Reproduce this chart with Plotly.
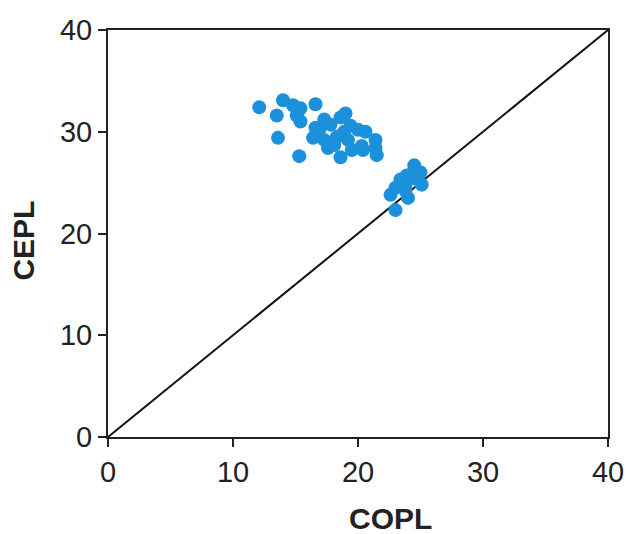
import plotly.graph_objects as go

copl = [12.1, 14.0, 13.5, 13.6, 14.8, 15.1, 15.4, 15.4, 15.3, 16.6, 16.6, 16.4, 16.9,
        17.3, 17.3, 17.6, 17.8, 18.3, 18.6, 19.0, 18.9, 18.6, 19.2, 19.5, 20.0, 20.3,
        20.6, 20.4, 21.4, 21.5, 21.4, 19.4, 18.1,
        22.6, 23.0, 23.4, 23.0, 23.8, 24.0, 23.9, 24.4, 24.5, 25.0, 25.1, 24.6, 23.8]
cepl = [32.4, 33.1, 31.6, 29.4, 32.6, 31.6, 32.3, 31.0, 27.6, 32.7, 30.4, 29.4, 30.2,
        31.2, 29.2, 28.4, 30.7, 29.5, 31.4, 31.8, 30.0, 27.5, 29.2, 28.2, 30.2, 28.6,
        30.0, 28.2, 29.2, 27.7, 28.4, 30.6, 28.7,
        23.8, 22.3, 25.3, 24.5, 24.8, 23.5, 25.7, 26.0, 26.7, 26.0, 24.8, 25.4, 24.2]
line_x = [0, 40]
line_y = [0, 40]
ticks = [0, 10, 20, 30, 40]

FONT = "Liberation Sans, Arial"

fig = go.Figure()
fig.add_trace(go.Scatter(x=line_x, y=line_y, mode="lines",
                         line=dict(color="#111", width=2), showlegend=False,
                         hoverinfo="skip"))
fig.add_trace(go.Scatter(x=copl, y=cepl, mode="markers",
                         marker=dict(color="#1b91dc", size=14, line=dict(width=0)),
                         showlegend=False))

axis_common = dict(range=[0, 40], tickvals=ticks, ticks="outside", ticklen=8,
                   tickwidth=2, tickcolor="#222", showline=True, linewidth=2,
                   linecolor="#222", mirror=True, showgrid=False, zeroline=False,
                   automargin=False,
                   tickfont=dict(family=FONT, size=29, color="#222"))

fig.update_layout(
    width=630, height=534,
    margin=dict(l=108, r=22, t=30, b=97, autoexpand=False),
    paper_bgcolor="white", plot_bgcolor="white",
    xaxis=dict(**axis_common),
    yaxis=dict(**axis_common),
    annotations=[
        dict(text="<b>COPL</b>", xref="paper", yref="paper", x=0.565, y=0,
             yshift=-81, xanchor="center", yanchor="middle", showarrow=False,
             font=dict(family=FONT, size=30, color="#222")),
        dict(text="<b>CEPL</b>", xref="paper", yref="paper", x=0, y=0.4825,
             xshift=-84, xanchor="center", yanchor="middle", showarrow=False,
             textangle=-90, font=dict(family=FONT, size=30, color="#222")),
    ],
)
fig.write_html("out.html")
